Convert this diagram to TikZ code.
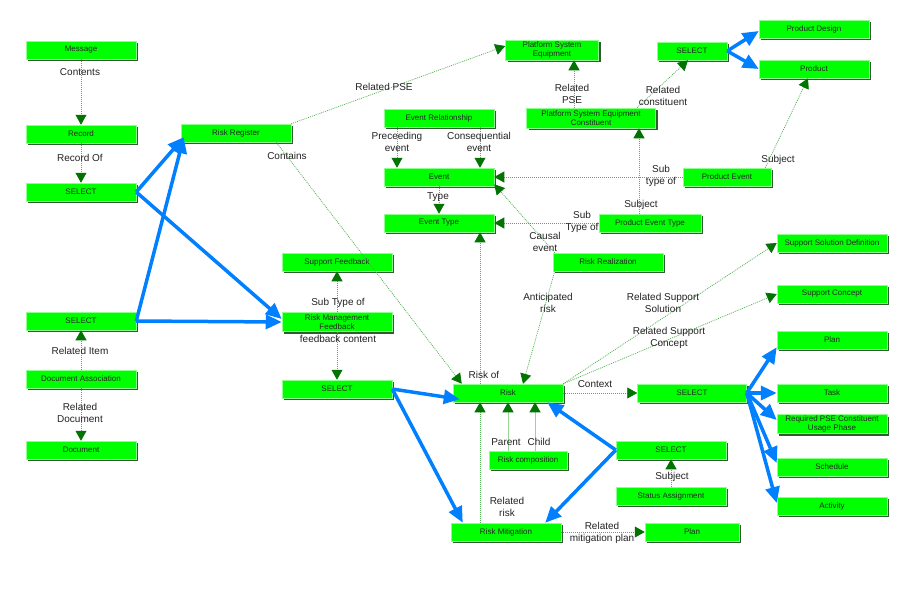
\documentclass[tikz,border=0pt]{standalone}
\usepackage{fontspec}
\setmainfont{Liberation Sans}
\usetikzlibrary{arrows.meta,shadows}
\definecolor{boxg}{RGB}{0,255,0}
\definecolor{boxshadow}{RGB}{45,95,45}
\definecolor{tipg}{RGB}{0,115,0}
\definecolor{lineg}{RGB}{80,175,80}
\definecolor{lineglight}{RGB}{150,215,150}
\definecolor{blu}{RGB}{0,128,255}
\definecolor{lblc}{RGB}{35,35,35}
\begin{document}
\begin{tikzpicture}[x=1pt,y=-1pt,
 box/.style={fill=boxg, draw=boxg!45!white, line width=0.5pt, minimum height=18pt, inner sep=0pt, align=center,
   font=\fontsize{8}{8.8}\selectfont, text=black!85,
   general shadow={fill=boxshadow, shadow xshift=2pt, shadow yshift=-2pt}},
 lbl/.style={font=\fontsize{10}{11.5}\selectfont, text=lblc, align=center, inner sep=0pt},
 rel/.style={draw=lineg, line width=0.7pt, dash pattern=on 1pt off 1pt,
   -{Triangle[length=10pt,width=11pt,color=tipg,fill=tipg]}},
 relsolid/.style={draw=lineglight, line width=0.8pt,
   -{Triangle[length=10pt,width=11pt,color=tipg,fill=tipg]}},
 selarrow/.style={draw=blu, line width=3.5pt, -{Triangle[length=16pt,width=14pt]}},
]
\useasboundingbox[fill=white] (0,0) rectangle (908,603);

% boxes
\node[box, minimum width=110pt] (msg) at (81,50) {Message};
\node[box, minimum width=110pt] (rec) at (81,134) {Record};
\node[box, minimum width=110pt] (sel1) at (81,192) {SELECT};
\node[box, minimum width=110pt] (sel2) at (81,321) {SELECT};
\node[box, minimum width=110pt] (da) at (81,379) {Document Association};
\node[box, minimum width=110pt] (doc) at (81,450) {Document};
\node[box, minimum width=110pt] (rr) at (236,133) {Risk Register};
\node[box, minimum width=93pt, minimum height=20pt] (pse) at (552,50) {Platform System\\Equipment};
\node[box, minimum width=110pt] (er) at (439,118) {Event Relationship};
\node[box, minimum width=110pt] (ev) at (439,177) {Event};
\node[box, minimum width=110pt] (et) at (439,223) {Event Type};
\node[box, minimum width=129pt, minimum height=20pt] (psec) at (591,118) {Platform System Equipment\\Constituent};
\node[box, minimum width=70pt] (selp) at (692,51) {SELECT};
\node[box, minimum width=110pt] (pd) at (814,29) {Product Design};
\node[box, minimum width=110pt] (prod) at (814,69) {Product};
\node[box, minimum width=88pt] (pe) at (727,177) {Product Event};
\node[box, minimum width=102pt] (pet) at (650,223) {Product Event Type};
\node[box, minimum width=110pt] (rreal) at (608,262) {Risk Realization};
\node[box, minimum width=110pt] (sf) at (337,262) {Support Feedback};
\node[box, minimum width=110pt, minimum height=19pt] (rmf) at (337,322) {Risk Management\\Feedback};
\node[box, minimum width=110pt] (selm) at (337,389) {SELECT};
\node[box, minimum width=110pt] (risk) at (508,393) {Risk};
\node[box, minimum width=109pt] (selc) at (692,393) {SELECT};
\node[box, minimum width=110pt] (ssd) at (832,243) {Support Solution Definition};
\node[box, minimum width=110pt] (sc) at (832,294) {Support Concept};
\node[box, minimum width=110pt] (plan) at (832,340) {Plan};
\node[box, minimum width=110pt] (task) at (832,393) {Task};
\node[box, minimum width=110pt, minimum height=19pt] (rpse) at (832,424) {Required PSE Constituent\\Usage Phase};
\node[box, minimum width=110pt] (sched) at (832,467) {Schedule};
\node[box, minimum width=110pt] (act) at (832,506) {Activity};
\node[box, minimum width=110pt] (sels) at (671,450) {SELECT};
\node[box, minimum width=110pt] (sa) at (671,496) {Status Assignment};
\node[box, minimum width=78pt] (rc) at (528,460) {Risk composition};
\node[box, minimum width=110pt] (rm) at (506,532) {Risk Mitigation};
\node[box, minimum width=94pt] (planb) at (692,532) {Plan};

% green relationship connectors
\draw[rel] (msg) -- (rec);
\draw[rel] (rec) -- (sel1);
\draw[rel] (da) -- (sel2);
\draw[rel] (da) -- (doc);
\draw[rel] (rr.north east) -- ([yshift=4pt]pse.west);
\draw[rel] ([xshift=-15pt]rr.south east) -- ([xshift=9pt]risk.north west);
\draw[rel] ([xshift=-28pt]risk.north) -- ([xshift=41pt]et.south);
\draw[rel] ([xshift=-42pt]er.south) -- ([xshift=-42pt]ev.north);
\draw[rel] ([xshift=41pt]er.south) -- ([xshift=41pt]ev.north);
\draw[rel] (ev) -- (et);
\draw[rel] (pe) -- (ev);
\draw[rel] (pet) -- (et);
\draw[rel] ([xshift=-11pt]pet.north) -- ([xshift=48pt]psec.south);
\draw[rel] ([xshift=-17pt]psec.north) -- ([xshift=22pt]pse.south);
\draw[rel] ([xshift=46pt]psec.north) -- ([xshift=-4pt]selp.south);
\draw[rel] ([xshift=-6pt]pe.north east) -- ([xshift=-6pt]prod.south);
\draw[rel] ([xshift=2pt]rreal.north west) -- ([yshift=2pt]ev.south east);
\draw[rel] ([xshift=2pt]rreal.south west) -- ([xshift=15pt]risk.north);
\draw[rel] (risk.north east) -- (ssd.west);
\draw[rel] (risk.north east) -- (sc.west);
\draw[rel] (risk) -- (selc);
\draw[relsolid] ([xshift=-20pt]rc.north) -- (risk.south);
\draw[relsolid] ([xshift=7pt]rc.north) -- ([xshift=27pt]risk.south);
\draw[rel] ([xshift=-26pt]rm.north) -- ([xshift=-28pt]risk.south);
\draw[rel] (rm) -- (planb);
\draw[rel] (sa) -- (sels);
\draw[rel] (rmf) -- (sf);
\draw[rel] (rmf) -- (selm);

% blue select connectors
\draw[selarrow] (sel1.east) -- ([xshift=3pt,yshift=5pt]rr.south west);
\draw[selarrow] (sel2.east) -- ([xshift=3pt,yshift=5pt]rr.south west);
\draw[selarrow] (sel1.east) -- ([yshift=3pt]rmf.west);
\draw[selarrow] (sel2.east) -- (rmf.west);
\draw[selarrow] (selp.east) -- ([yshift=-2pt]pd.west);
\draw[selarrow] (selp.east) -- (prod.west);
\draw[selarrow] (selm.east) -- ([xshift=7pt,yshift=3pt]risk.south west);
\draw[selarrow] (selm.east) -- ([xshift=12pt]rm.north west);
\draw[selarrow] (sels.west) -- ([xshift=-16pt]risk.south east);
\draw[selarrow] (sels.west) -- ([xshift=-16pt]rm.north east);
\draw[selarrow] (selc.east) -- ([yshift=2pt]plan.south west);
\draw[selarrow] (selc.east) -- (task.west);
\draw[selarrow] (selc.east) -- ([yshift=4pt]rpse.west);
\draw[selarrow] (selc.east) -- ([yshift=4pt]sched.west);
\draw[selarrow] (selc.east) -- ([yshift=3pt]act.west);

% labels
\node[lbl] (l1) at (80,72) {Contents};
\node[lbl] (l2) at (80,158) {Record Of};
\node[lbl] (l3) at (80,351) {Related Item};
\node[lbl] (l4) at (80,413) {Related\\Document};
\node[lbl] (l5) at (384,87) {Related PSE};
\node[lbl] (l6) at (287,156) {Contains};
\node[lbl] (l7) at (397,142) {Preceeding\\event};
\node[lbl] (l8) at (479,142) {Consequential\\event};
\node[lbl] (l9) at (438,197) {Type};
\node[lbl] (l10) at (572,94) {Related\\PSE};
\node[lbl] (l11) at (663,96) {Related\\constituent};
\node[lbl] (l12) at (661,176) {Sub\\type of};
\node[lbl] (l13) at (778,160) {Subject};
\node[lbl] (l14) at (641,205) {Subject};
\node[lbl] (l15) at (582,222) {Sub\\Type of};
\node[lbl] (l16) at (545,242) {Causal\\event};
\node[lbl] (l17) at (548,303) {Anticipated\\risk};
\node[lbl] (l18) at (663,303) {Related Support\\Solution};
\node[lbl] (l19) at (669,338) {Related Support\\Concept};
\node[lbl] (l20) at (595,384) {Context};
\node[lbl] (l21) at (484,375) {Risk of};
\node[lbl] (l22) at (338,303) {Sub Type of};
\node[lbl] (l23) at (338,339) {feedback content};
\node[lbl] (l24) at (506,442) {Parent};
\node[lbl] (l25) at (539,442) {Child};
\node[lbl] (l26) at (507,507) {Related\\risk};
\node[lbl] (l27) at (602,533) {Related\\mitigation plan};
\node[lbl] (l28) at (672,477) {Subject};
\end{tikzpicture}
\end{document}
